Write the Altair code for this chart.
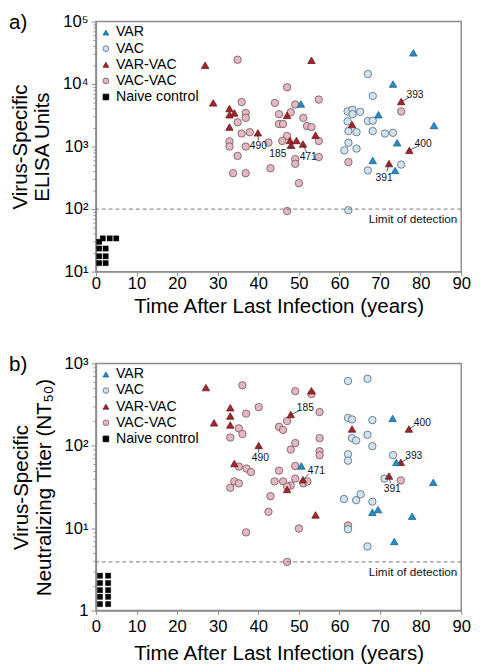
import altair as alt
import pandas as pd

groups = ["VAR", "VAC", "VAR-VAC", "VAC-VAC", "Naive control"]
fills = ["#2190c8", "#cfe3f1", "#a3262c", "#e4b8c2", "#000000"]
strokes = ["#1c5d82", "#56656f", "#6a191e", "#6d5358", "#000000"]
shapes = ["triangle-up", "circle", "triangle-up", "circle", "square"]

# ---------- Panel a: ELISA units ----------
a_var_t = [78.2, 73.2, 69.6, 83.3, 74.2, 68.2, 73.7, 50.5]
a_var_v = [31600, 10000, 3230, 2170, 1150, 600, 415, 4800]

a_vac_t = [67, 68.2, 62, 63.2, 63.2, 65.1, 62, 67, 68.2, 62.2, 64.2, 68.2, 71.2, 73.2,
           62.2, 61.2, 64.2, 67, 75.2, 62.2]
a_vac_v = [14500, 6450, 3650, 3880, 3300, 3600, 2520, 2560, 2600, 1770, 1700, 1770, 1620, 1660,
           1150, 870, 930, 415, 515, 96]

a_varvac_t = [26.9, 53.1, 28.9, 32.9, 34.1, 32.9, 32.9, 39.9, 47.1, 47.8, 49.4, 48.1, 51, 54.1,
              75.2, 63.1, 77.2, 72.2]
a_varvac_v = [20000, 24000, 5000, 4060, 3450, 3230, 2050, 1660, 3160, 1250, 1250, 1050, 1100, 1520,
              5250, 2250, 870, 535]

a_vacvac_t = [34.9, 47.1, 54.9, 35.9, 44.1, 49.1, 36.9, 36.9, 45.1, 48, 34.9, 45.1, 46.1, 51.1,
              52, 53.1, 35.9, 37.9, 47.1, 45.9, 32.9, 32.9, 36.9, 42.5, 54.9, 34.9, 49.1, 49.1,
              54.9, 43, 33.8, 36.9, 50, 47.1, 75.2, 62.2]
a_vacvac_v = [24500, 8900, 5650, 5150, 5000, 4700, 3440, 2880, 3300, 3540, 2450, 2300, 2300, 2880,
              2130, 2050, 1620, 1700, 1480, 1230, 1210, 1000, 1000, 1160, 1230, 710, 630, 530,
              680, 450, 375, 375, 260, 93, 3650, 565]

a_naive_t = [0.8, 1.7, 3.4, 5.0, 0.8, 2.4, 0.8, 2.4, 0.8, 2.4]
a_naive_v = [30, 34, 34, 34, 23.4, 23.4, 17.6, 17.6, 13.7, 13.7]

a_ann_label = ["490", "185", "471", "393", "400", "391"]
a_ann_pt_t = [39.9, 48.1, 51, 75.2, 77.2, 72.2]
a_ann_pt_v = [1660, 1050, 1100, 5250, 870, 535]
a_ann_end_t = [40, 46.9, 51.9, 77, 79.2, 71.7]
a_ann_end_v = [1250, 950, 800, 6000, 1000, 400]
a_ann_txt_t = [40, 44.8, 52.3, 78.6, 80.6, 71]
a_ann_txt_v = [1020, 760, 690, 6650, 1100, 317]

a_lod = 100
a_yticks = [10, 100, 1000, 10000, 100000]
a_ylabels = ["10\u00b9", "10\u00b2", "10\u00b3", "10\u2074", "10\u2075"]

# ---------- Panel b: neutralizing titer ----------
b_var_t = [50.6, 73.1, 74, 83.1, 68.1, 69.5, 77.9, 73.5]
b_var_v = [57, 215, 63, 36, 15.6, 16.8, 14, 6.9]

b_vac_t = [62.1, 66.9, 62.1, 63.1, 68.1, 66.9, 63.1, 64.1, 68.1, 62.1, 62.1, 73.2, 71.1,
           61.1, 64.1, 65.2, 68.1, 62.1, 66.9]
b_vac_v = [612, 652, 218, 209, 205, 136, 124, 116, 99, 79, 66, 77, 40,
           22.6, 21.9, 25.8, 21, 9.7, 6.0]

b_varvac_t = [27.1, 33.1, 33.1, 29.1, 33.1, 53.1, 48, 40.1, 34.1, 51, 47.1, 54.1, 63.1, 77.1, 75.1, 72.2]
b_varvac_v = [509, 290, 230, 190, 179, 466, 240, 101, 61, 38.8, 29.5, 14.5, 160, 160, 63, 43]

b_vacvac_t = [36.1, 49.1, 53.1, 40.1, 37, 55.1, 47.1, 35.2, 45.1, 46.1, 36.1, 33.1, 55.1, 49.1,
              48, 55.1, 55.1, 35.2, 37.1, 38.2, 49.1, 45.1, 34.1, 35.2, 33.1, 44, 46.1, 49.1,
              48, 47.1, 51.1, 52.1, 43, 42.5, 50, 37, 47.1, 75.1, 62.1]
b_vacvac_v = [543, 461, 425, 295, 246, 257, 200, 163, 170, 156, 139, 126, 124, 108,
              90, 86, 77, 56, 53, 48, 57, 50, 37, 35, 31, 37, 37, 40,
              33, 32, 35, 37, 24.5, 15.8, 9.9, 8.9, 3.9, 38, 10.8]

b_naive_t = [1.0, 3.0, 1.0, 3.0, 1.0, 3.0, 1.0, 3.0, 1.0, 3.0]
b_naive_v = [2.65, 2.65, 2.16, 2.16, 1.77, 1.77, 1.47, 1.47, 1.2, 1.2]

b_ann_label = ["185", "490", "471", "400", "393", "391"]
b_ann_pt_t = [48, 40.1, 51, 77.1, 75.1, 72.2]
b_ann_pt_v = [240, 101, 38.8, 160, 63, 43]
b_ann_end_t = [50, 40.1, 52.5, 78.6, 76.8, 72.6]
b_ann_end_v = [265, 82, 46, 178, 70, 35]
b_ann_txt_t = [51.6, 40.5, 54.3, 80.4, 78.3, 73]
b_ann_txt_v = [287, 72, 50, 190, 75, 30]

b_lod = 3.9
b_yticks = [1, 10, 100, 1000]
b_ylabels = ["1", "10\u00b9", "10\u00b2", "10\u00b3"]

x_title = "Time After Last Infection (years)"
lod_text = "Limit of detection"


def points_df(sets):
    rows = []
    for g, ts, vs in sets:
        for t, v in zip(ts, vs):
            rows.append({"group": g, "t": t, "v": v})
    return pd.DataFrame(rows)


def label_expr(vals, labs):
    expr = "''"
    for v, l in reversed(list(zip(vals, labs))):
        expr = f"datum.value == {v} ? '{l}' : ({expr})"
    return expr


def panel(pts, naive, ann, lod, letter, letter_y, ytitle, yticks, ylabels, h,
          xlabpad, xtitlepad, ytitlepad):
    minors = [m * d for d in yticks[:-1] for m in range(2, 10)]
    xs = alt.Scale(domain=[0, 90], nice=False, zero=False)
    ys = alt.Scale(type="log", domain=[yticks[0], yticks[-1]], nice=False)
    major_test = "indexof([" + ",".join(str(v) for v in yticks) + "], datum.value) >= 0"
    yaxis = alt.Axis(values=yticks + minors, labelExpr=label_expr(yticks, ylabels),
                     title=ytitle, titlePadding=ytitlepad, labelPadding=3,
                     tickSize={"condition": {"test": major_test, "value": 5}, "value": 3},
                     titleLineHeight=23)
    xaxis = alt.Axis(values=list(range(0, 91, 10)), title=x_title, labelPadding=xlabpad,
                     titlePadding=xtitlepad, tickSize=4, labelFlush=False)
    leg = alt.Legend(orient="none", legendX=3, legendY=4, title=None)
    fill = alt.Fill("group:N", scale=alt.Scale(domain=groups, range=fills), legend=leg)
    stroke = alt.Stroke("group:N", scale=alt.Scale(domain=groups, range=strokes), legend=leg)
    shape = alt.Shape("group:N", scale=alt.Scale(domain=groups, range=shapes), legend=leg)

    lod_df = pd.DataFrame({"t": [90], "v": [lod], "label": [lod_text]})
    letter_df = pd.DataFrame({"label": [letter]})

    pts_layer = alt.Chart(pts).mark_point(filled=True, size=58, strokeWidth=0.8, opacity=1).encode(
        x=alt.X("t:Q", scale=xs, axis=xaxis), y=alt.Y("v:Q", scale=ys, axis=yaxis),
        fill=fill, stroke=stroke, shape=shape)
    naive_layer = alt.Chart(naive).mark_point(filled=True, size=30, strokeWidth=0.3, opacity=1).encode(
        x=alt.X("t:Q", scale=xs), y=alt.Y("v:Q", scale=ys),
        fill=fill, stroke=stroke, shape=shape)
    lod_rule = alt.Chart(lod_df).mark_rule(strokeDash=[4, 3], color="#777777", strokeWidth=1).encode(
        y=alt.Y("v:Q", scale=ys))
    lod_lab = alt.Chart(lod_df).mark_text(align="right", baseline="middle", dx=-4, dy=10,
                                          fontSize=12, color="#111111").encode(
        x=alt.X("t:Q", scale=xs), y=alt.Y("v:Q", scale=ys), text="label:N")
    lines = alt.Chart(ann).mark_rule(color="#333333", strokeWidth=0.8).encode(
        x=alt.X("pt_t:Q", scale=xs), y=alt.Y("pt_v:Q", scale=ys), x2="end_t:Q", y2="end_v:Q")
    texts = alt.Chart(ann).mark_text(fontSize=10.5, color="#111111").encode(
        x=alt.X("txt_t:Q", scale=xs), y=alt.Y("txt_v:Q", scale=ys), text="label:N")
    letter_layer = alt.Chart(letter_df).mark_text(align="left", baseline="top", fontSize=21,
                                                  color="black").encode(
        x=alt.value(-89), y=alt.value(letter_y), text="label:N")
    return alt.layer(pts_layer, lod_rule, lod_lab, lines, naive_layer, texts, letter_layer).properties(
        width=374, height=h)


def ann_df(lab, pt, pv, et, ev, tt, tv):
    return pd.DataFrame({"label": lab, "pt_t": pt, "pt_v": pv, "end_t": et, "end_v": ev,
                         "txt_t": tt, "txt_v": tv})


pa = points_df([("VAC-VAC", a_vacvac_t, a_vacvac_v), ("VAC", a_vac_t, a_vac_v),
                ("VAR-VAC", a_varvac_t, a_varvac_v), ("VAR", a_var_t, a_var_v)])
pb = points_df([("VAC-VAC", b_vacvac_t, b_vacvac_v), ("VAC", b_vac_t, b_vac_v),
                ("VAR-VAC", b_varvac_t, b_varvac_v), ("VAR", b_var_t, b_var_v)])
na = points_df([("Naive control", a_naive_t, a_naive_v)])
nb = points_df([("Naive control", b_naive_t, b_naive_v)])

panel_a = panel(pa, na, ann_df(a_ann_label, a_ann_pt_t, a_ann_pt_v, a_ann_end_t, a_ann_end_v,
                               a_ann_txt_t, a_ann_txt_v),
                a_lod, "a)", -9, ["Virus-Specific", "ELISA Units"], a_yticks, a_ylabels, 256,
                0, 5, 10)
panel_b = panel(pb, nb, ann_df(b_ann_label, b_ann_pt_t, b_ann_pt_v, b_ann_end_t, b_ann_end_v,
                               b_ann_txt_t, b_ann_txt_v),
                b_lod, "b)", -9, ["Virus-Specific", "Neutralizing Titer (NT\u2085\u2080)"], b_yticks,
                b_ylabels, 253, 4, 9, 10)

chart = alt.vconcat(panel_a, panel_b, spacing=37).resolve_scale(
    fill="independent", stroke="independent", shape="independent"
).properties(padding={"top": -4, "left": 0, "right": 0, "bottom": 0}).configure(
    font="Liberation Sans"
).configure_view(
    stroke="#8c8c8c", strokeWidth=1.5
).configure_axis(
    labelFont="Liberation Sans", titleFont="Liberation Sans", labelFontSize=17, titleFontSize=21,
    titleFontWeight="normal", domainColor="#8c8c8c", tickColor="#8c8c8c", labelColor="black",
    titleColor="black", grid=False, domainWidth=1.5
).configure_legend(
    labelFont="Liberation Sans", labelFontSize=14.5, symbolSize=34, rowPadding=1.5, labelOffset=3,
    padding=0, symbolStrokeWidth=0.8, labelColor="black"
).configure_text(font="Liberation Sans")

chart.save("out.html", embed_options={"renderer": "svg", "actions": False})
